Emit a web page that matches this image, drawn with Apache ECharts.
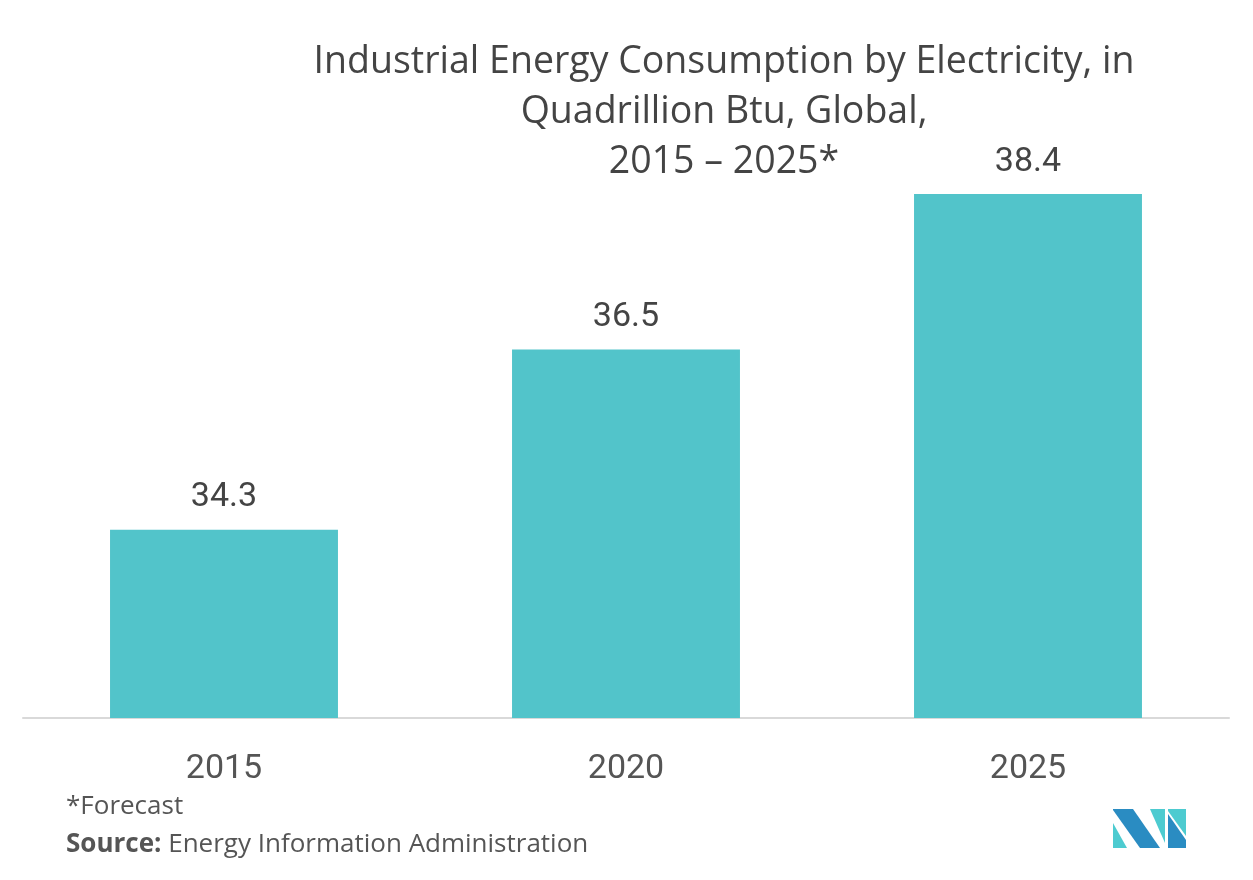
<!DOCTYPE html>
<html>
<head>
<meta charset="utf-8">
<script src="https://cdn.jsdelivr.net/npm/echarts@6/dist/echarts.min.js"></script>
<style>html,body{margin:0;padding:0;background:#fff}#c{width:1253px;height:880px}</style>
</head>
<body>
<div id="c"></div>
<script>
var categories = ['2015', '2020', '2025'];
var values = [34.3, 36.5, 38.4];
var titleLines = ['Industrial Energy Consumption by Electricity, in', 'Quadrillion Btu, Global,', '2015 – 2025*'];
var footnote = '*Forecast';
var sourceLabel = 'Source:';
var sourceText = ' Energy Information Administration';

var chart = echarts.init(document.getElementById('c'), null, {renderer: 'canvas'});
var numFont = 'Roboto, sans-serif';
chart.setOption({
  animation: false,
  backgroundColor: '#fff',
  grid: {left: 23, right: 24, top: 194, bottom: 162},
  xAxis: {
    type: 'category', data: categories,
    axisLine: {lineStyle: {color: '#d9d9d9', width: 2}},
    axisTick: {show: false},
    axisLabel: {color: '#555', fontSize: 34, fontFamily: numFont, margin: 34}
  },
  yAxis: {type: 'value', min: 32, max: 38.4, show: false, splitLine: {show: false}},
  series: [{
    type: 'bar', data: values, barWidth: '56.7%',
    itemStyle: {color: '#52C4CA'},
    label: {show: true, position: 'top', distance: 15, color: '#444', fontSize: 34, fontFamily: numFont,
      formatter: function (p) { return p.value.toFixed(1); }}
  }],
  graphic: [
    {type: 'text', x: 724, y: 37, style: {
      text: titleLines.join('\n'), align: 'center', verticalAlign: 'top', fill: '#444', lineHeight: 50,
      font: '400 37.5px "Open Sans", sans-serif'}},
    {type: 'text', left: 66, top: 794, style: {text: footnote, fill: '#555', font: '26px "Open Sans", sans-serif'}},
    {type: 'text', left: 66, top: 832, style: {
      text: '{b|' + sourceLabel + '}' + sourceText, fill: '#555', font: '26px "Open Sans", sans-serif',
      rich: {b: {fontWeight: 'bold', fontSize: 26, fontFamily: '"Open Sans", sans-serif', fill: '#555'}}}},
    {type: 'polygon', shape: {points: [[1113,823],[1113,848],[1127,848]]}, style: {fill: '#4DCBD0'}},
    {type: 'polygon', shape: {points: [[1113,809],[1133,809],[1160,848],[1140,848],[1113,810]]}, style: {fill: '#2A8CC2'}},
    {type: 'polygon', shape: {points: [[1150,809],[1165,809],[1165,843]]}, style: {fill: '#4DCBD0'}},
    {type: 'polygon', shape: {points: [[1168,809],[1186,809],[1186,836],[1168,811]]}, style: {fill: '#4DCBD0'}},
    {type: 'polygon', shape: {points: [[1168,814],[1186,840],[1186,848],[1168,848]]}, style: {fill: '#2A8CC2'}}
  ]
});
</script>
</body>
</html>
